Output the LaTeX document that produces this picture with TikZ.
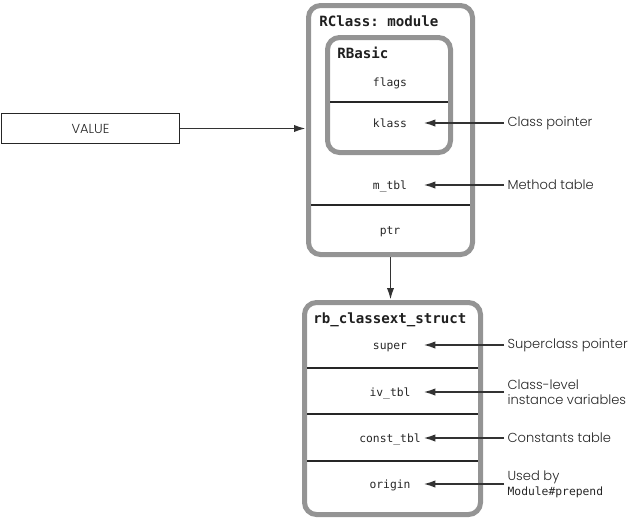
\documentclass[tikz,border=0pt]{standalone}
\usepackage{fontspec}
\setmainfont{Poppins}[UprightFont=* Light]
\setmonofont{DejaVu Sans Mono}
\usetikzlibrary{arrows.meta}

\begin{document}
\begin{tikzpicture}[x=0.75pt,y=-0.75pt,>={Latex[length=9pt,width=5.5pt]},
  gbox/.style={draw=black!42,line width=3.75pt,rounded corners=9pt,inner sep=0pt},
  field/.style={font=\ttfamily\fontsize{8.5}{10}\selectfont,text=black!85,minimum width=49.5pt,inner sep=0pt,text height=1.6ex,text depth=.4ex},
  title/.style={font=\ttfamily\bfseries\fontsize{10.6}{12}\selectfont,text=black!88,anchor=west,inner sep=0pt},
  lbl/.style={font=\fontsize{9.8}{11.5}\selectfont,text=black!85,anchor=west,align=left,inner sep=2.5pt},
  sep/.style={line width=1.4pt,black!85},
  ptr/.style={->,line width=1.4pt,black!80}]
\useasboundingbox (0,0) rectangle (632,519);

% RClass with RBasic inside
\node[gbox,minimum width=123pt,minimum height=186.75pt] (rclass) at (390.5,130) {};
\node[gbox,minimum width=92.25pt,minimum height=86.25pt] (rbasic) at (389,95) {};
\node[title] (tclass) at (319,21) {RClass: module};
\node[title] (tbasic) at (337,53) {RBasic};
\node[field] (flags) at (390,82) {flags};
\node[field] (klass) at (390,123) {klass};
\node[field] (mtbl) at (390,185) {m\_tbl};
\node[field] (ptr) at (390,230) {ptr};
\draw[sep] (330,102) -- (448,102);
\draw[sep] (311,205) -- (470,205);

% rb_classext_struct
\node[gbox,minimum width=132pt,minimum height=159pt] (rbext) at (392.5,408.5) {};
\node[title] (text) at (313,320) {rb\_classext\_struct};
\node[field] (super) at (390,345) {super};
\node[field] (ivtbl) at (390,392) {iv\_tbl};
\node[field] (consttbl) at (390,438) {const\_tbl};
\node[field] (origin) at (390,484) {origin};
\draw[sep] (307,368) -- (478,368);
\draw[sep] (307,414) -- (478,414);
\draw[sep] (307,461) -- (478,461);

% VALUE
\node[draw=black!85,line width=1.3pt,minimum width=133.5pt,minimum height=22.5pt,font=\fontsize{9.8}{11}\selectfont,text=black!85] (value) at (90.5,128.5) {VALUE};

% labels on the right
\node[lbl] (lklass) at (504,123) {Class pointer};
\node[lbl] (lmtbl) at (504,185) {Method table};
\node[lbl] (lsuper) at (504,345) {Superclass pointer};
\node[lbl] (livtbl) at (504,392) {Class-level\\instance variables};
\node[lbl] (lconst) at (504,438) {Constants table};
\node[lbl] (lorigin) at (504,484) {Used by\\{\ttfamily\fontsize{8.5}{10}\selectfont Module\#prepend}};

% pointers
\draw[ptr] (value) -- (value -| rclass.west);
\draw[ptr] (rclass.south) -- (rclass.south |- rbext.north);
\draw[ptr] (lklass.west) -- (klass.east);
\draw[ptr] (lmtbl.west) -- (mtbl.east);
\draw[ptr] (lsuper.west) -- (super.east);
\draw[ptr] (livtbl.west) -- (ivtbl.east);
\draw[ptr] (lconst.west) -- (consttbl.east);
\draw[ptr] (lorigin.west) -- (origin.east);
\end{tikzpicture}
\end{document}
